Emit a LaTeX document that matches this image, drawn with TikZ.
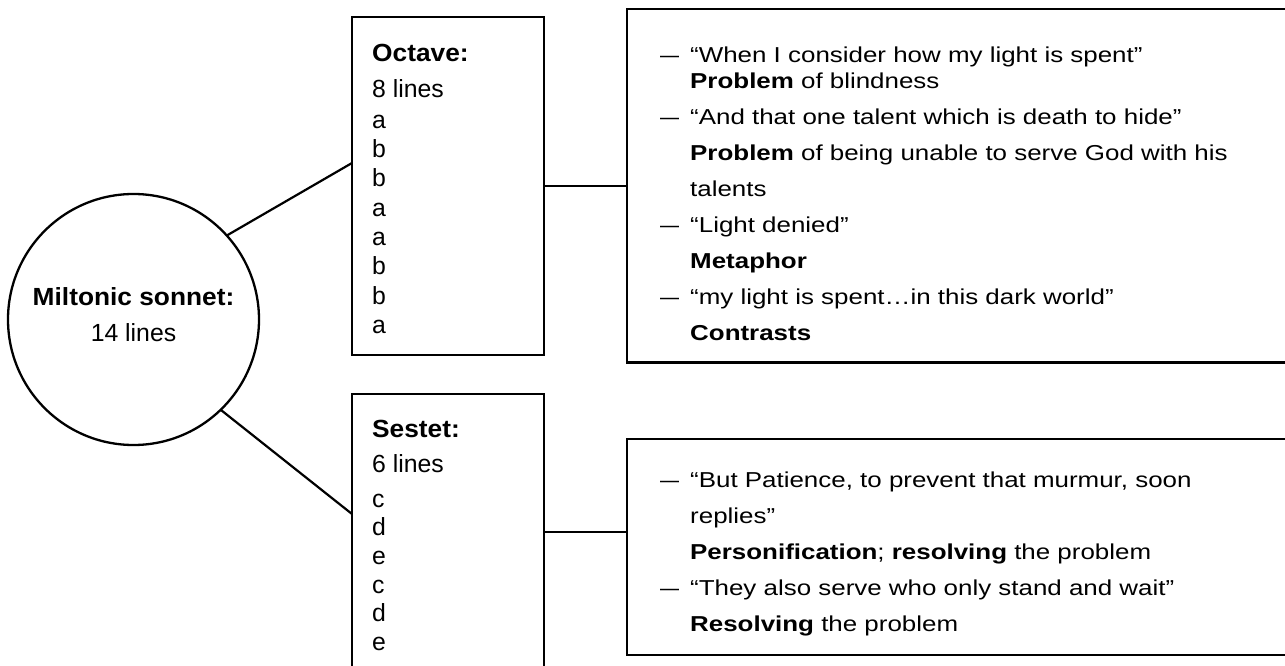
\documentclass[tikz,border=0pt]{standalone}
\usepackage{fontspec}
\usepackage{graphicx}
\setmainfont{Liberation Sans}[BoldFeatures={FakeStretch=1.06}]
\newfontfamily\rfont{Liberation Sans}[FakeStretch=1.2]
\tikzset{
  box/.style={draw, line width=2.5pt, inner sep=0pt, outer sep=0pt},
  conn/.style={line width=2.2pt},
  octtext/.style={anchor=north west, inner sep=0pt, align=left, font=\fontsize{24.8}{29.3}\selectfont},
  sestext/.style={anchor=north west, inner sep=0pt, align=left, font=\fontsize{24.8}{28.6}\selectfont},
  righttext/.style={anchor=north west, inner sep=0pt, align=left, font=\rfont\fontsize{21.6}{36}\selectfont},
}
\newcommand{\dashitem}{\makebox[30pt][l]{\resizebox{19pt}{\height}{—}}}
\newcommand{\contitem}{\hspace*{30pt}}
\begin{document}
\begin{tikzpicture}[x=1pt,y=-1pt]
\useasboundingbox (0,0) rectangle (1285,666);
\clip (0,0) rectangle (1285,666);

% central circle
\node[circle, draw, line width=2.3pt, minimum size=251pt, inner sep=0pt, outer sep=0pt,
      align=center, font=\fontsize{24.8}{36}\selectfont, text depth=9pt]
  (son) at (133.5,319.5) {\textbf{Miltonic sonnet:}\\14 lines};

% boxes
\node[box, minimum width=192pt, minimum height=338pt] (oct) at (448,186) {};
\node[box, minimum width=192pt, minimum height=306pt] (ses) at (448,547) {};
\node[box, minimum width=693pt, minimum height=353.5pt] (tr) at (973.5,185.75) {};
\node[box, minimum width=693pt, minimum height=216pt] (br) at (973.5,547) {};

% box texts
\node[octtext] (octt) at (372,41) {\rule{0pt}{20pt}\textbf{Octave:}\\[6.5pt]8 lines\\[2pt]a\\b\\b\\a\\a\\b\\b\\a};
\node[sestext] (sest) at (372,417) {\rule{0pt}{20pt}\textbf{Sestet:}\\[6.4pt]6 lines\\[6.4pt]c\\d\\e\\c\\d\\e};

\node[righttext] (trt) at (660,42) {\rule{0pt}{20pt}\dashitem“When I consider how my light is spent”\\[-10pt]
\contitem\textbf{Problem} of blindness\\
\dashitem“And that one talent which is death to hide”\\
\contitem\textbf{Problem} of being unable to serve God with his\\
\contitem talents\\
\dashitem“Light denied”\\
\contitem\textbf{Metaphor}\\
\dashitem“my light is spent…in this dark world”\\
\contitem\textbf{Contrasts}};

\node[righttext] (brt) at (660,467) {\rule{0pt}{20pt}\dashitem“But Patience, to prevent that murmur, soon\\
\contitem replies”\\
\contitem\textbf{Personification}; \textbf{resolving} the problem\\
\dashitem“They also serve who only stand and wait”\\
\contitem\textbf{Resolving} the problem};

% connectors
\coordinate (octin) at (352,163);
\coordinate (sesin) at (352,514);
\coordinate (sesout) at (544,532);
\draw[conn] (son.42) -- (octin);
\draw[conn] (son.-46) -- (sesin);
\draw[conn] (oct.east) -- (oct.east -| tr.west);
\draw[conn] (sesout) -- (sesout -| br.west);
\end{tikzpicture}
\end{document}
